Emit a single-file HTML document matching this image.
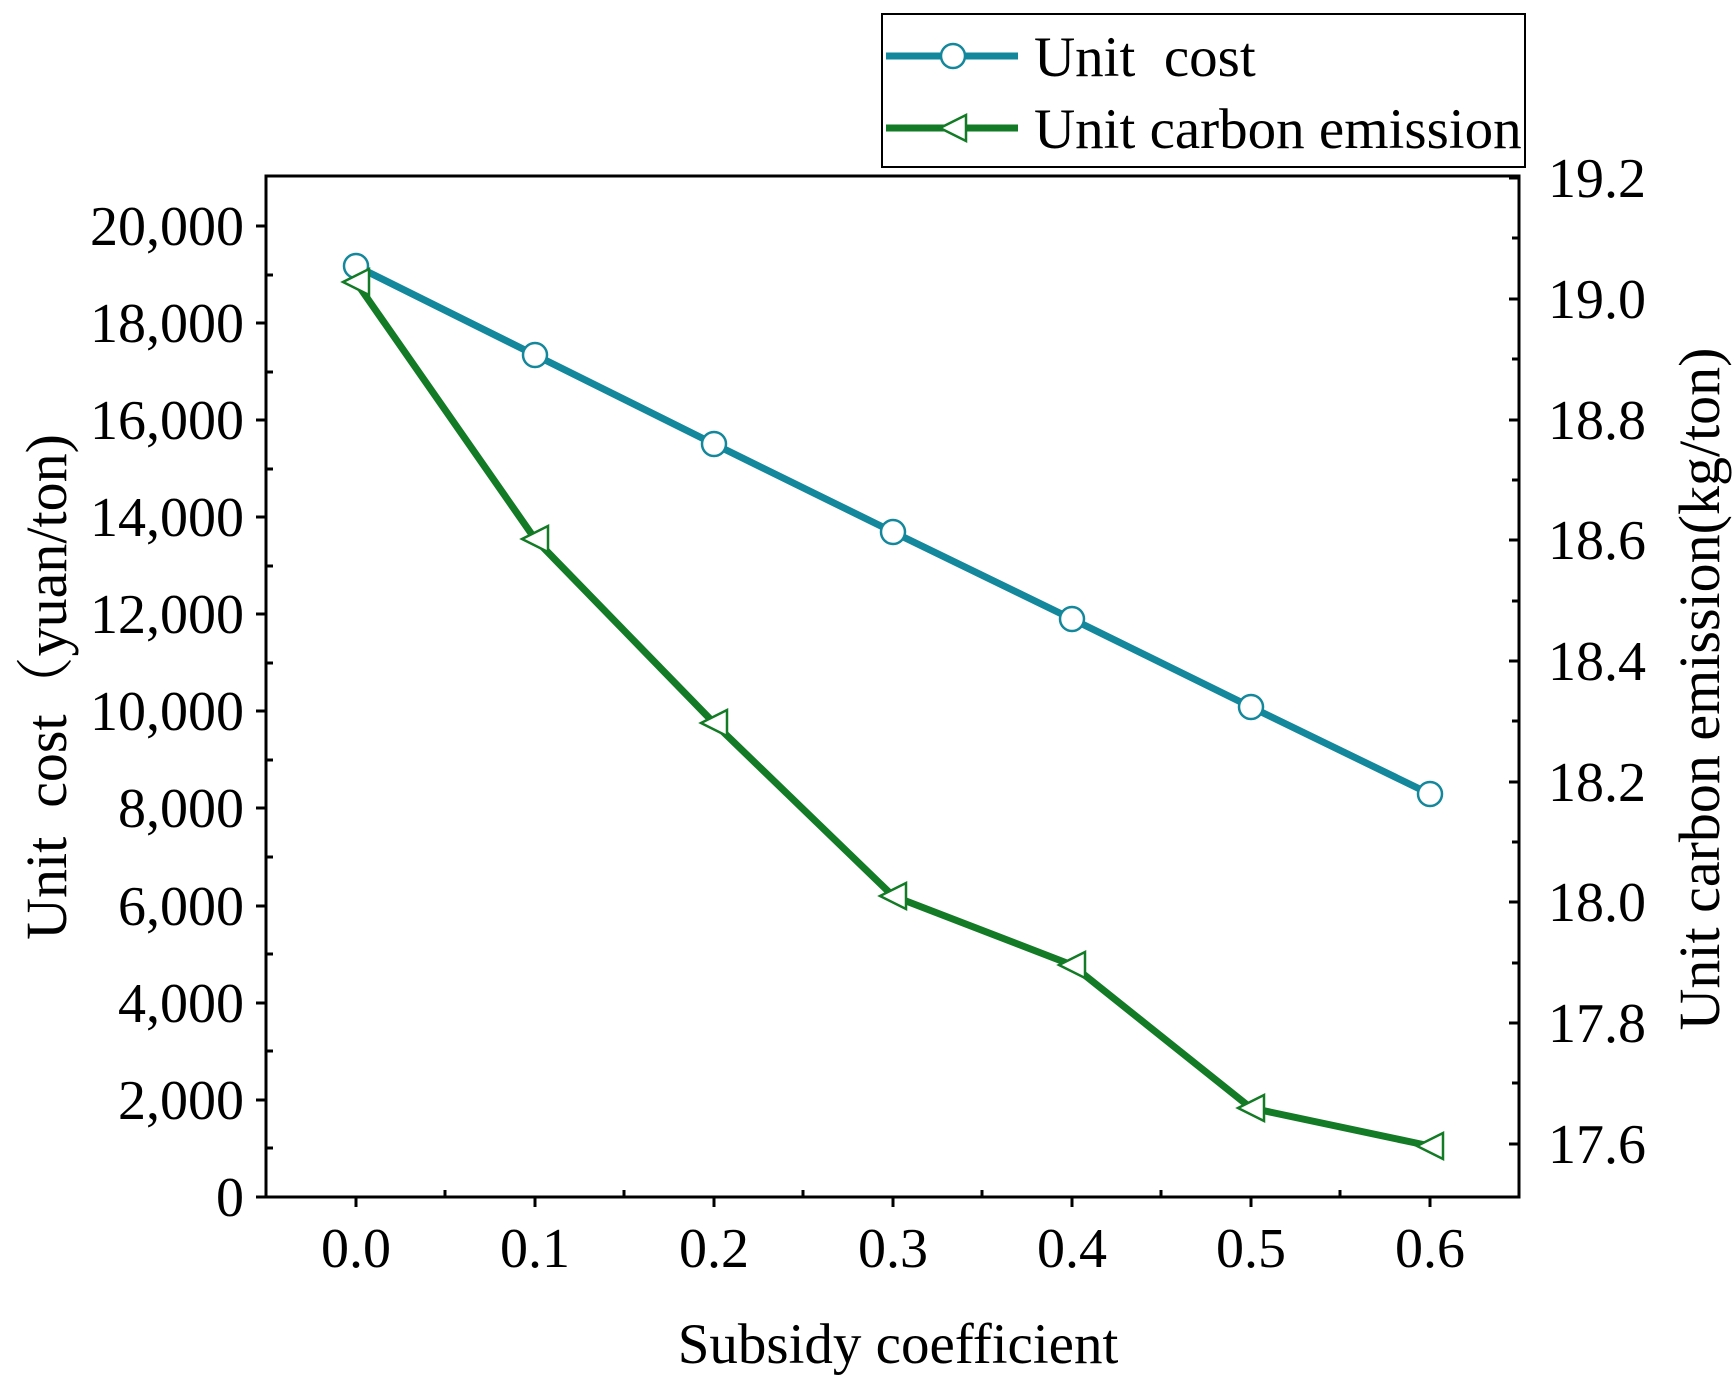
<!DOCTYPE html>
<html><head><meta charset="utf-8"><style>
html,body{margin:0;padding:0;background:#fff;}
svg text{font-family:"Liberation Serif",serif;fill:#000;}
</style></head><body>
<svg width="1735" height="1386" viewBox="0 0 1735 1386" xmlns="http://www.w3.org/2000/svg">
<rect x="0" y="0" width="1735" height="1386" fill="#fff"/>
<g stroke="#000" stroke-width="3" fill="none">
<rect x="266" y="176" width="1253" height="1021"/>
</g>
<g stroke="#000" stroke-width="3">
<line x1="266" y1="1197" x2="256" y2="1197"/><line x1="266" y1="1100" x2="256" y2="1100"/><line x1="266" y1="1003" x2="256" y2="1003"/><line x1="266" y1="906" x2="256" y2="906"/><line x1="266" y1="808" x2="256" y2="808"/><line x1="266" y1="711" x2="256" y2="711"/><line x1="266" y1="614" x2="256" y2="614"/><line x1="266" y1="517" x2="256" y2="517"/><line x1="266" y1="420" x2="256" y2="420"/><line x1="266" y1="323" x2="256" y2="323"/><line x1="266" y1="226" x2="256" y2="226"/>
<line x1="266" y1="1148" x2="273" y2="1148"/><line x1="266" y1="1051" x2="273" y2="1051"/><line x1="266" y1="954" x2="273" y2="954"/><line x1="266" y1="857" x2="273" y2="857"/><line x1="266" y1="760" x2="273" y2="760"/><line x1="266" y1="663" x2="273" y2="663"/><line x1="266" y1="566" x2="273" y2="566"/><line x1="266" y1="469" x2="273" y2="469"/><line x1="266" y1="372" x2="273" y2="372"/><line x1="266" y1="275" x2="273" y2="275"/>
<line x1="356" y1="1197" x2="356" y2="1207"/><line x1="535" y1="1197" x2="535" y2="1207"/><line x1="714" y1="1197" x2="714" y2="1207"/><line x1="893" y1="1197" x2="893" y2="1207"/><line x1="1072" y1="1197" x2="1072" y2="1207"/><line x1="1251" y1="1197" x2="1251" y2="1207"/><line x1="1430" y1="1197" x2="1430" y2="1207"/>
<line x1="445" y1="1197" x2="445" y2="1190"/><line x1="624" y1="1197" x2="624" y2="1190"/><line x1="803" y1="1197" x2="803" y2="1190"/><line x1="982" y1="1197" x2="982" y2="1190"/><line x1="1161" y1="1197" x2="1161" y2="1190"/><line x1="1340" y1="1197" x2="1340" y2="1190"/>
<line x1="1519" y1="178" x2="1509" y2="178"/><line x1="1519" y1="299" x2="1509" y2="299"/><line x1="1519" y1="420" x2="1509" y2="420"/><line x1="1519" y1="540" x2="1509" y2="540"/><line x1="1519" y1="661" x2="1509" y2="661"/><line x1="1519" y1="782" x2="1509" y2="782"/><line x1="1519" y1="902" x2="1509" y2="902"/><line x1="1519" y1="1023" x2="1509" y2="1023"/><line x1="1519" y1="1144" x2="1509" y2="1144"/>
<line x1="1519" y1="238" x2="1512" y2="238"/><line x1="1519" y1="359" x2="1512" y2="359"/><line x1="1519" y1="480" x2="1512" y2="480"/><line x1="1519" y1="601" x2="1512" y2="601"/><line x1="1519" y1="721" x2="1512" y2="721"/><line x1="1519" y1="842" x2="1512" y2="842"/><line x1="1519" y1="963" x2="1512" y2="963"/><line x1="1519" y1="1083" x2="1512" y2="1083"/>
</g>
<g font-size="56" text-anchor="end">
<text x="244" y="1216">0</text><text x="244" y="1119">2,000</text><text x="244" y="1022">4,000</text><text x="244" y="925">6,000</text><text x="244" y="827">8,000</text><text x="244" y="730">10,000</text><text x="244" y="633">12,000</text><text x="244" y="536">14,000</text><text x="244" y="439">16,000</text><text x="244" y="342">18,000</text><text x="244" y="245">20,000</text>
</g>
<g font-size="56" text-anchor="start">
<text x="1548" y="197">19.2</text><text x="1548" y="318">19.0</text><text x="1548" y="439">18.8</text><text x="1548" y="559">18.6</text><text x="1548" y="680">18.4</text><text x="1548" y="801">18.2</text><text x="1548" y="921">18.0</text><text x="1548" y="1042">17.8</text><text x="1548" y="1163">17.6</text>
</g>
<g font-size="56" text-anchor="middle">
<text x="356" y="1267">0.0</text><text x="535" y="1267">0.1</text><text x="714" y="1267">0.2</text><text x="893" y="1267">0.3</text><text x="1072" y="1267">0.4</text><text x="1251" y="1267">0.5</text><text x="1430" y="1267">0.6</text>
</g>
<text x="898" y="1363" font-size="57" text-anchor="middle">Subsidy coefficient</text>
<text transform="translate(66,687) rotate(-90)" font-size="58" text-anchor="middle" style="font-family:'Liberation Serif','Noto Serif CJK SC',serif;white-space:pre">Unit  cost（yuan/ton)</text>
<text transform="translate(1719,689) rotate(-90)" font-size="58" text-anchor="middle">Unit carbon emission(kg/ton)</text>
<g fill="none" stroke-width="7" stroke-linejoin="round">
<polyline stroke="#13879b" points="356,266 535,355 714,444 893,532 1072,619 1251,707 1430,794"/>
<polyline stroke="#137a25" points="356,282 535,539 714,723 893,896 1072,965 1251,1108 1430,1146"/>
</g>
<g fill="#fff" stroke="#13879b" stroke-width="2.5">
<circle cx="356" cy="266" r="12"/><circle cx="535" cy="355" r="12"/><circle cx="714" cy="444" r="12"/><circle cx="893" cy="532" r="12"/><circle cx="1072" cy="619" r="12"/><circle cx="1251" cy="707" r="12"/><circle cx="1430" cy="794" r="12"/>
</g>
<g fill="#fff" stroke="#137a25" stroke-width="2.5">
<polygon points="343,282 369,269 369,295"/><polygon points="522,539 548,526 548,552"/><polygon points="701,723 727,710 727,736"/><polygon points="880,896 906,883 906,909"/><polygon points="1059,965 1085,952 1085,978"/><polygon points="1238,1108 1264,1095 1264,1121"/><polygon points="1417,1146 1443,1133 1443,1159"/>
</g>
<rect x="882" y="14" width="643" height="153" fill="#fff" stroke="#000" stroke-width="2"/>
<line x1="886" y1="56" x2="1018" y2="56" stroke="#13879b" stroke-width="7"/>
<circle cx="953" cy="56" r="12" fill="#fff" stroke="#13879b" stroke-width="2.5"/>
<line x1="886" y1="128" x2="1018" y2="128" stroke="#137a25" stroke-width="7"/>
<polygon points="940,128 966,115 966,141" fill="#fff" stroke="#137a25" stroke-width="2.5"/>
<text x="1034" y="76" font-size="57" style="white-space:pre">Unit  cost</text>
<text x="1034" y="148" font-size="57">Unit carbon emission</text>
</svg>
</body></html>
